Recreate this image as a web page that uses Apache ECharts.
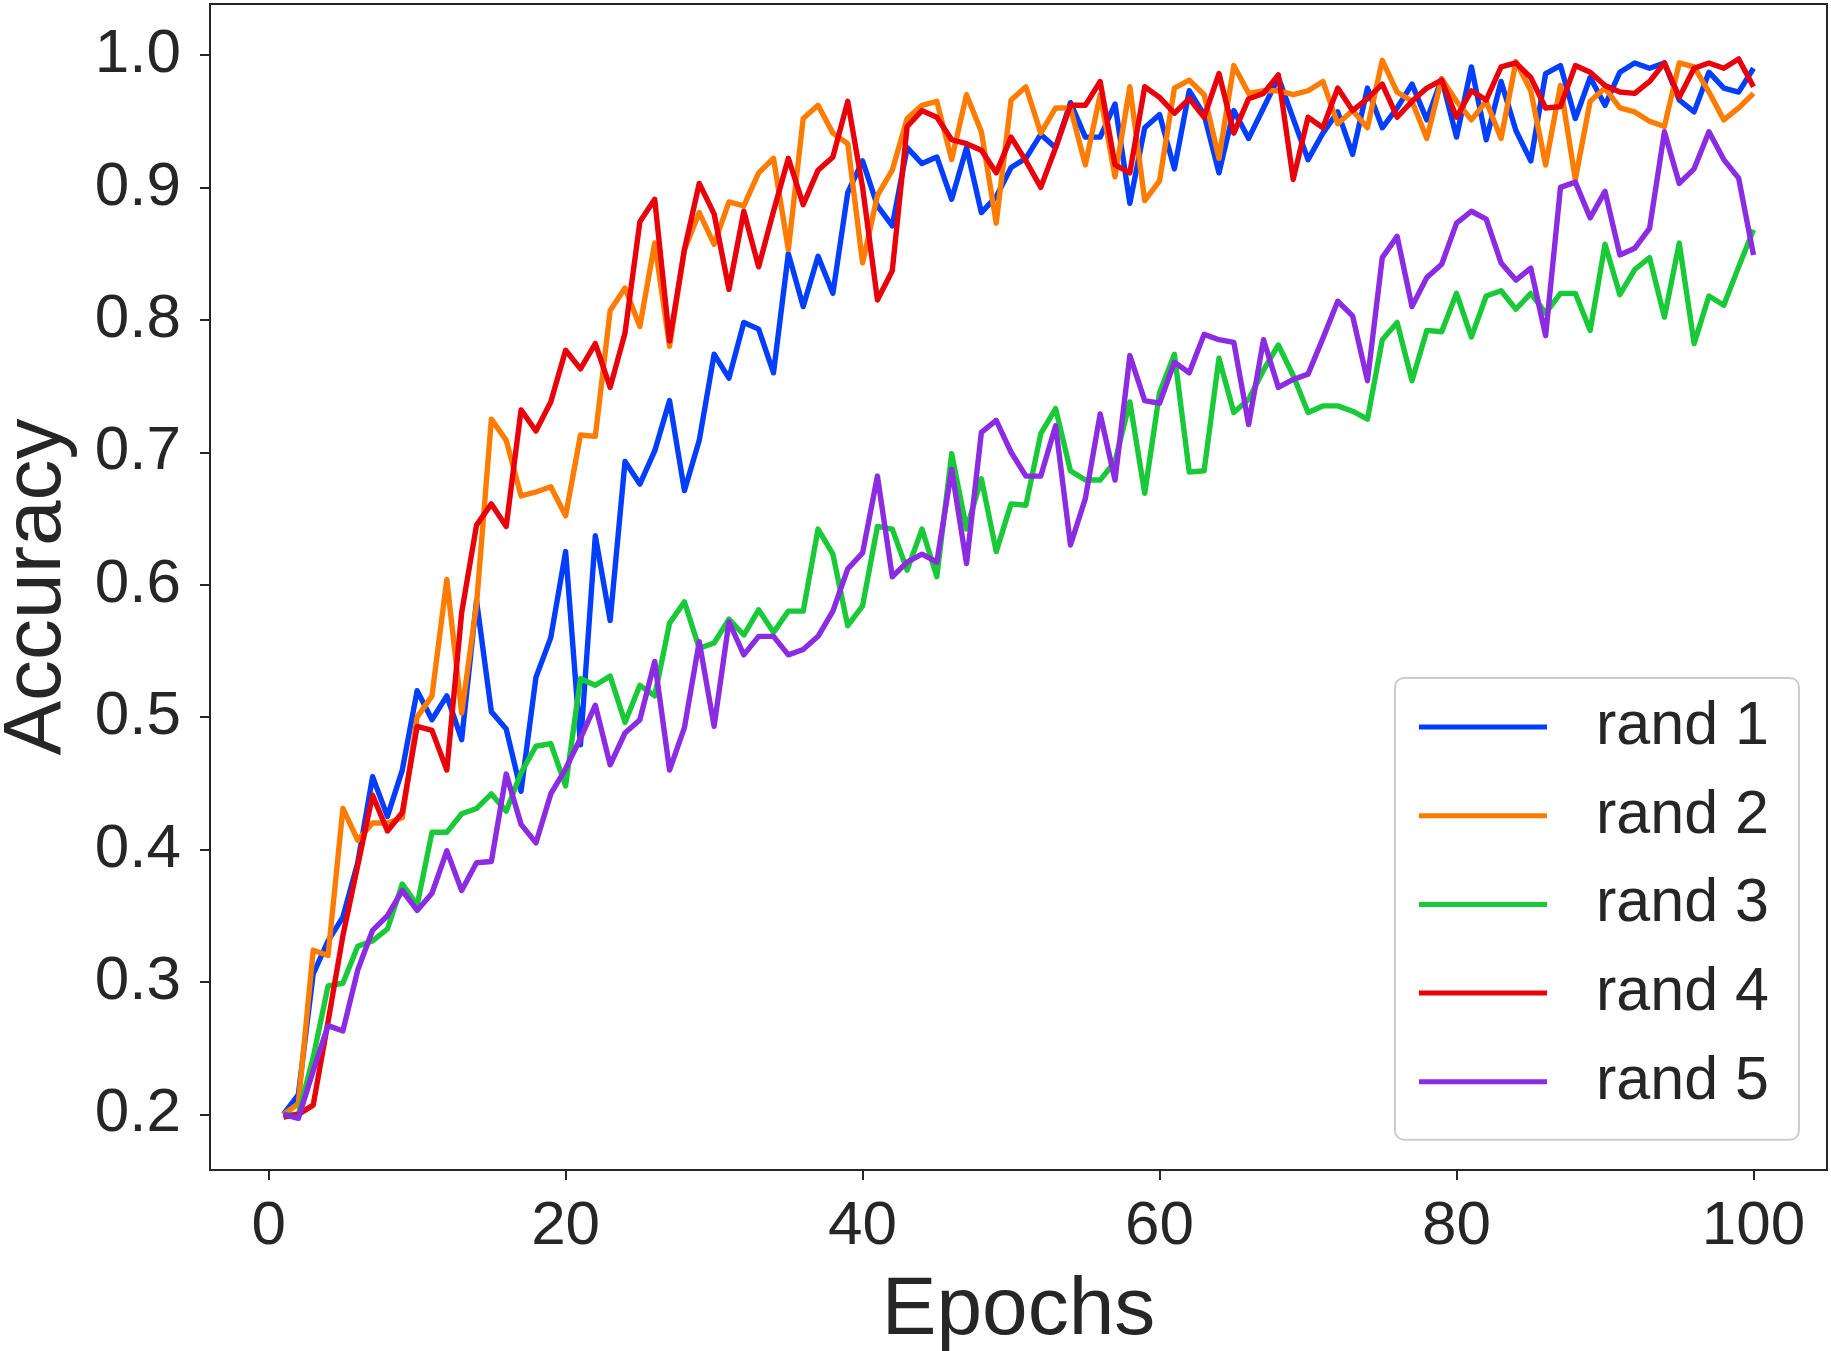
<!DOCTYPE html>
<html>
<head>
<meta charset="utf-8">
<script src="https://cdn.jsdelivr.net/npm/echarts@6/dist/echarts.min.js"></script>
<style>
html,body{margin:0;padding:0;background:#fff;}
#chart{width:1831px;height:1351px;}
</style>
</head>
<body>
<div id="chart"></div>
<script>
const epochs = [1,2,3,4,5,6,7,8,9,10,11,12,13,14,15,16,17,18,19,20,21,22,23,24,25,26,27,28,29,30,31,32,33,34,35,36,37,38,39,40,41,42,43,44,45,46,47,48,49,50,51,52,53,54,55,56,57,58,59,60,61,62,63,64,65,66,67,68,69,70,71,72,73,74,75,76,77,78,79,80,81,82,83,84,85,86,87,88,89,90,91,92,93,94,95,96,97,98,99,100];

const rand1 = [0.200,0.215,0.306,0.331,0.349,0.390,0.455,0.425,0.460,0.520,
0.498,0.516,0.483,0.588,0.504,0.491,0.444,0.530,0.560,0.625,
0.479,0.637,0.573,0.693,0.676,0.701,0.739,0.671,0.709,0.774,
0.756,0.798,0.793,0.760,0.850,0.810,0.848,0.820,0.896,0.920,
0.886,0.871,0.930,0.918,0.923,0.891,0.930,0.881,0.893,0.915,
0.922,0.940,0.930,0.964,0.938,0.938,0.963,0.888,0.945,0.955,
0.914,0.973,0.955,0.911,0.958,0.937,0.960,0.983,0.952,0.921,
0.941,0.957,0.925,0.975,0.945,0.960,0.978,0.951,0.982,0.938,
0.991,0.936,0.980,0.943,0.920,0.986,0.992,0.952,0.983,0.962,
0.987,0.994,0.990,0.994,0.966,0.957,0.987,0.975,0.972,0.990];

const rand2 = [0.200,0.208,0.324,0.320,0.431,0.407,0.420,0.420,0.424,0.500,
0.516,0.604,0.503,0.585,0.725,0.709,0.667,0.670,0.674,0.652,
0.713,0.712,0.807,0.824,0.795,0.858,0.780,0.853,0.881,0.857,
0.889,0.886,0.911,0.922,0.853,0.952,0.962,0.941,0.933,0.843,
0.894,0.913,0.952,0.962,0.965,0.921,0.970,0.942,0.873,0.966,
0.976,0.941,0.960,0.960,0.917,0.970,0.908,0.976,0.890,0.905,
0.975,0.981,0.970,0.922,0.992,0.971,0.973,0.973,0.970,0.973,
0.980,0.948,0.958,0.945,0.996,0.972,0.965,0.937,0.982,0.965,
0.951,0.965,0.937,0.995,0.973,0.917,0.977,0.906,0.965,0.975,
0.960,0.957,0.950,0.946,0.994,0.991,0.972,0.951,0.960,0.971];

const rand3 = [0.200,0.200,0.243,0.297,0.299,0.327,0.331,0.340,0.374,0.358,
0.413,0.413,0.427,0.431,0.442,0.429,0.458,0.478,0.480,0.448,
0.529,0.524,0.531,0.496,0.524,0.516,0.571,0.587,0.552,0.556,
0.574,0.562,0.581,0.564,0.580,0.580,0.642,0.623,0.569,0.584,
0.644,0.642,0.611,0.642,0.606,0.699,0.642,0.680,0.625,0.661,
0.660,0.714,0.733,0.686,0.679,0.679,0.693,0.738,0.669,0.745,
0.774,0.685,0.686,0.771,0.730,0.740,0.762,0.781,0.758,0.730,
0.735,0.735,0.731,0.725,0.785,0.798,0.754,0.792,0.791,0.820,
0.787,0.818,0.822,0.808,0.820,0.805,0.820,0.820,0.792,0.857,
0.819,0.838,0.847,0.802,0.858,0.782,0.818,0.811,0.840,0.868];

const rand4 = [0.198,0.200,0.207,0.270,0.335,0.388,0.441,0.414,0.428,0.493,
0.490,0.460,0.579,0.645,0.661,0.644,0.732,0.716,0.738,0.777,
0.763,0.782,0.749,0.790,0.874,0.891,0.784,0.853,0.903,0.880,
0.823,0.882,0.840,0.882,0.922,0.887,0.913,0.923,0.965,0.900,
0.815,0.837,0.946,0.958,0.953,0.936,0.933,0.928,0.911,0.938,
0.920,0.900,0.930,0.962,0.962,0.980,0.917,0.911,0.976,0.968,
0.956,0.967,0.953,0.986,0.941,0.967,0.971,0.985,0.906,0.953,
0.945,0.975,0.958,0.967,0.978,0.953,0.965,0.975,0.981,0.953,
0.973,0.966,0.991,0.994,0.983,0.960,0.961,0.992,0.987,0.977,
0.972,0.971,0.980,0.994,0.968,0.990,0.994,0.990,0.997,0.976];

const rand5 = [0.200,0.197,0.233,0.267,0.263,0.309,0.339,0.350,0.369,0.354,
0.367,0.399,0.369,0.390,0.391,0.457,0.419,0.405,0.442,0.461,
0.484,0.509,0.464,0.488,0.498,0.542,0.460,0.492,0.557,0.493,
0.572,0.547,0.561,0.561,0.547,0.551,0.561,0.580,0.612,0.624,
0.682,0.606,0.617,0.623,0.617,0.687,0.616,0.715,0.724,0.700,
0.682,0.682,0.720,0.630,0.665,0.729,0.679,0.773,0.739,0.737,
0.768,0.760,0.789,0.785,0.783,0.721,0.785,0.749,0.755,0.759,
0.786,0.814,0.803,0.754,0.847,0.863,0.810,0.832,0.842,0.873,
0.882,0.876,0.843,0.830,0.839,0.788,0.900,0.904,0.877,0.897,
0.849,0.854,0.869,0.942,0.903,0.914,0.942,0.921,0.907,0.849];

const seriesNames = ['rand 1','rand 2','rand 3','rand 4','rand 5'];
const xTicks = [0,20,40,60,80,100];
const yTicks = [0.2,0.3,0.4,0.5,0.6,0.7,0.8,0.9,1.0];

const colors = ['#023eff','#ff7c00','#1ac938','#e8000b','#8b2be2'];
const allData = [rand1, rand2, rand3, rand4, rand5];
const FONT = '"Liberation Sans", Arial, sans-serif';
const TXT = '#262626';

const chart = echarts.init(document.getElementById('chart'), null, {renderer:'canvas'});
const series = seriesNames.map((name, i) => ({
  name: name,
  type: 'line',
  data: epochs.map((e, j) => [e, allData[i][j]]),
  showSymbol: false,
  symbol: 'none',
  lineStyle: {color: colors[i], width: 5.4, join: 'round', cap: 'butt'},
  itemStyle: {color: colors[i]},
  emphasis: {disabled: true},
  animation: false
}));

chart.setOption({
  animation: false,
  backgroundColor: '#ffffff',
  grid: {left: 210, top: 4, right: 4, bottom: 181, show: true, borderColor: TXT, borderWidth: 2, containLabel: false, outerBoundsMode: 'none'},
  xAxis: {
    type: 'value', min: -3.95, max: 104.95,
    name: 'Epochs', nameLocation: 'middle', nameGap: 100,
    nameTextStyle: {fontFamily: FONT, fontSize: 82, color: TXT},
    axisLine: {show: true, onZero: false, lineStyle: {color: TXT, width: 2}},
    axisTick: {show: true, length: 10, lineStyle: {color: TXT, width: 2}, customValues: xTicks},
    axisLabel: {fontFamily: FONT, fontSize: 62, color: TXT, margin: 26, customValues: xTicks, formatter: v => String(v)},
    splitLine: {show: false}
  },
  yAxis: {
    type: 'value', min: 0.158, max: 1.0385,
    name: 'Accuracy', nameLocation: 'middle', nameGap: 132, nameRotate: 90,
    nameTextStyle: {fontFamily: FONT, fontSize: 82, color: TXT},
    axisLine: {show: true, onZero: false, lineStyle: {color: TXT, width: 2}},
    axisTick: {show: true, length: 10, lineStyle: {color: TXT, width: 2}, customValues: yTicks},
    axisLabel: {fontFamily: FONT, fontSize: 62, color: TXT, margin: 29, customValues: yTicks, formatter: v => v.toFixed(1)},
    splitLine: {show: false}
  },
  legend: {
    show: true, orient: 'vertical', left: 1395, top: 678,
    data: seriesNames,
    icon: 'rect', itemWidth: 128, itemHeight: 5, itemGap: 18.7,
    padding: [14, 30, 23, 24],
    backgroundColor: '#ffffff', borderColor: '#cccccc', borderWidth: 2, borderRadius: 9,
    textStyle: {fontFamily: FONT, fontSize: 61, color: TXT, lineHeight: 70, padding: [0, 0, 0, 44]}
  },
  series: series
});
</script>
</body>
</html>
